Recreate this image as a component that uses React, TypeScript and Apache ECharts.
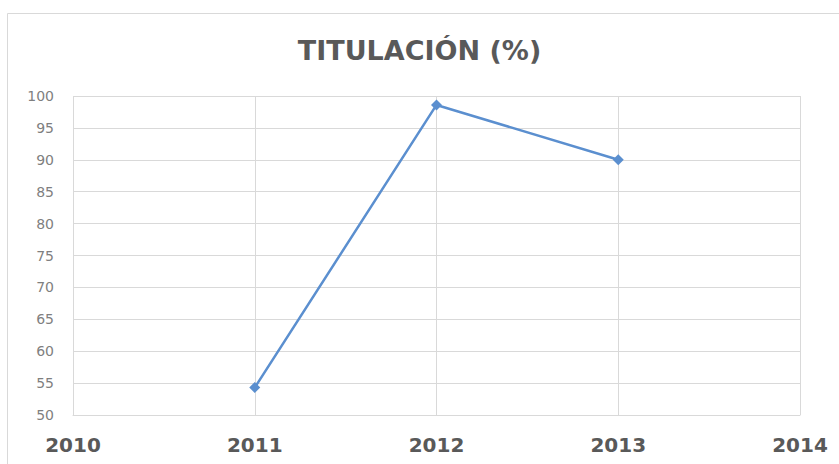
import React, { useEffect, useRef } from "react";
import * as echarts from "echarts";

const titleText = "TITULACIÓN (%)";
const years = [2011, 2012, 2013];
const values = [54.3, 98.6, 90.0];
const xMin = 2010;
const xMax = 2014;
const yMin = 50;
const yMax = 100;

export default function App() {
  const ref = useRef<HTMLDivElement>(null);
  useEffect(() => {
    if (!ref.current) return;
    const chart = echarts.init(ref.current, undefined, { renderer: "svg" });
    const data = years.map((y, i) => [y, values[i]]);
    chart.setOption({
      animation: false,
      backgroundColor: "#ffffff",
      title: {
        text: titleText,
        left: "center",
        top: 32,
        textStyle: {
          fontFamily: "DejaVu Sans",
          fontWeight: "bold",
          fontSize: 27,
          color: "#595959",
        },
      },
      graphic: [
        {
          type: "rect",
          shape: { x: 7.5, y: 13.5, width: 860, height: 480 },
          style: { fill: "none", stroke: "#d9d9d9", lineWidth: 1 },
          silent: true,
          z: -1,
        },
      ],
      grid: { left: 73, right: 39, top: 96, bottom: 49 },
      xAxis: {
        type: "value",
        min: xMin,
        max: xMax,
        interval: 1,
        axisLine: { show: true, lineStyle: { color: "#d9d9d9" } },
        axisTick: { show: false },
        splitLine: { show: true, lineStyle: { color: "#d9d9d9" } },
        axisLabel: {
          margin: 20,
          fontFamily: "DejaVu Sans",
          fontWeight: "bold",
          fontSize: 20,
          color: "#595959",
          formatter: (v: number) => String(v),
        },
      },
      yAxis: {
        type: "value",
        min: yMin,
        max: yMax,
        interval: 5,
        axisLine: { show: false },
        axisTick: { show: false },
        splitLine: { show: true, lineStyle: { color: "#d9d9d9" } },
        axisLabel: {
          margin: 19,
          fontFamily: "DejaVu Sans",
          fontSize: 14,
          color: "#7f7f7f",
        },
      },
      series: [
        {
          type: "line",
          data,
          symbol: "diamond",
          symbolSize: 11,
          lineStyle: { color: "#5b8fcf", width: 2.5 },
          itemStyle: { color: "#5b8fcf" },
        },
      ],
    });
    return () => chart.dispose();
  }, []);
  return (
    <div
      ref={ref}
      style={{ position: "fixed", left: 0, top: 0, width: 839, height: 464 }}
    />
  );
}
